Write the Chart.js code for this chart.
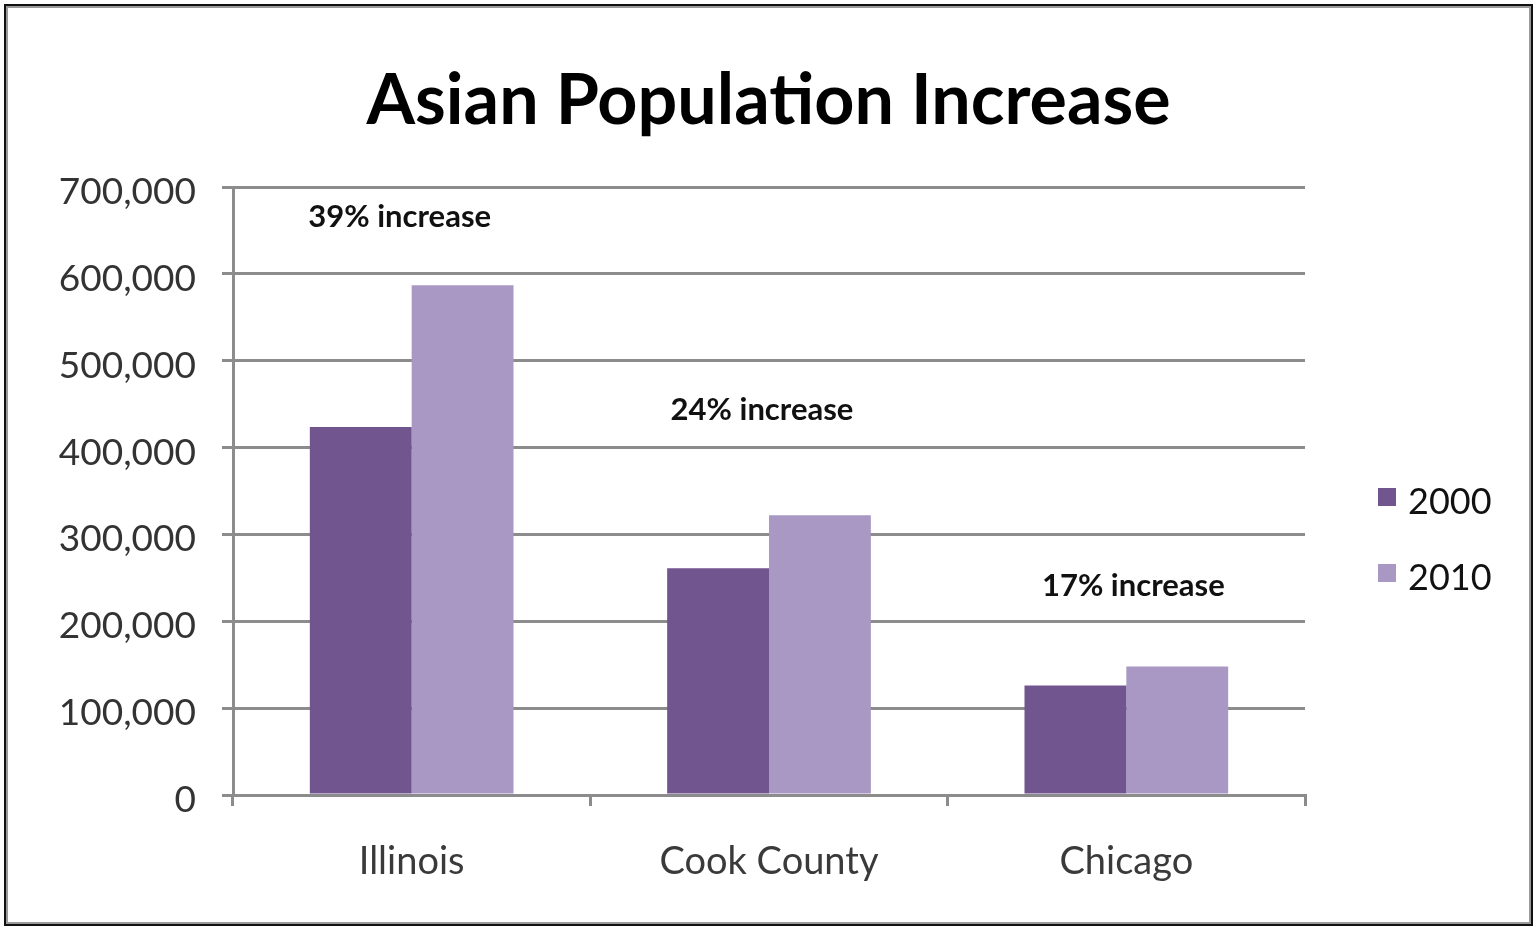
<!DOCTYPE html>
<html>
<head>
<meta charset="utf-8">
<script src="https://cdn.jsdelivr.net/npm/chart.js@4"></script>
<style>
  body { margin: 0; background: #fff; }
  #frame {
    position: absolute; left: 4px; top: 4px; width: 1525px; height: 918px;
    border: 2px solid #111; box-shadow: inset 0 0 0 2px #9a9a9a;
  }
  #wrap { position: absolute; left: 7px; top: 7px; width: 1523px; height: 916px; }
</style>
</head>
<body>
<div id="frame"></div>
<div id="wrap"><canvas id="graph"></canvas></div>
<script>
// data
const places = ['Illinois', 'Cook County', 'Chicago'];
const years = ['2000', '2010'];
const pop2000 = [423600, 261000, 126000];
const pop2010 = [586900, 322000, 148000];
const noteText = ['39% increase', '24% increase', '17% increase'];
const noteAt = [666000, 443000, 241000]; // y value where each note sits

const yTicks = [0, 100000, 200000, 300000, 400000, 500000, 600000, 700000];

const gridGray = '#8c8c8c';
const noteNudge = [-12, -7, 7]; // px, notes are not exactly centred in the original

// notes above each group, placed on the scales
const notes = {
  id: 'notes',
  afterDatasetsDraw(chart) {
    const { ctx, scales } = chart;
    ctx.save();
    ctx.font = 'bold 31px Lato';
    ctx.fillStyle = '#111';
    ctx.textAlign = 'center';
    ctx.textBaseline = 'middle';
    noteText.forEach((t, i) => {
      ctx.fillText(t, scales.x.getPixelForValue(i) + noteNudge[i], scales.y.getPixelForValue(noteAt[i]));
    });
    ctx.restore();
  }
};

// legend on the right side, next to the plot
const sideLegend = {
  id: 'sideLegend',
  afterDraw(chart) {
    const { ctx, chartArea } = chart;
    ctx.save();
    chart.data.datasets.forEach((ds, i) => {
      const x = chartArea.right + 73;
      const y = chartArea.top + 315 + i * 76;
      ctx.fillStyle = ds.backgroundColor;
      ctx.fillRect(x, y - 14, 18, 18);
      ctx.fillStyle = '#111';
      ctx.font = '36px Lato';
      ctx.textAlign = 'left';
      ctx.textBaseline = 'middle';
      ctx.fillText(ds.label, x + 30, y);
    });
    ctx.restore();
  }
};

new Chart('graph', {
  type: 'bar',
  data: {
    labels: places,
    datasets: [
      { label: years[0], data: pop2000, backgroundColor: '#70558f' },
      { label: years[1], data: pop2010, backgroundColor: '#a898c3' }
    ]
  },
  options: {
    responsive: true,
    maintainAspectRatio: false,
    animation: false,
    categoryPercentage: 0.57,
    barPercentage: 1.0,
    plugins: {
      legend: { display: false },
      tooltip: { enabled: false },
      title: {
        display: true,
        text: 'Asian Population Increase',
        color: '#000',
        font: { family: 'Lato', size: 70, weight: 'bold' },
        padding: { top: 52, bottom: 44 }
      }
    },
    scales: {
      x: {
        grid: { drawOnChartArea: false, drawTicks: true, tickLength: 11, color: gridGray, lineWidth: 3 },
        border: { display: true, color: gridGray, width: 3 },
        ticks: { color: '#3a3a3a', font: { family: 'Lato', size: 38 }, padding: 33 },
        afterFit(s) { s.height = 128; }
      },
      y: {
        min: 0,
        max: 700000,
        afterBuildTicks(s) { s.ticks = yTicks.map(v => ({ value: v })); },
        grid: { color: gridGray, lineWidth: 3, tickLength: 11 },
        border: { display: true, color: gridGray, width: 3 },
        ticks: {
          color: '#333',
          font: { family: 'Lato', size: 37 },
          padding: 26,
          labelOffset: 5,
          callback: v => v.toLocaleString('en-US')
        },
        afterFit(s) { s.width = 226; }
      },
      // empty right-hand axis that only keeps room for the legend
      side: {
        position: 'right',
        grid: { display: false },
        border: { display: false },
        ticks: { display: false },
        afterFit(s) { s.width = 225; }
      }
    }
  },
  plugins: [notes, sideLegend]
});
</script>
</body>
</html>
